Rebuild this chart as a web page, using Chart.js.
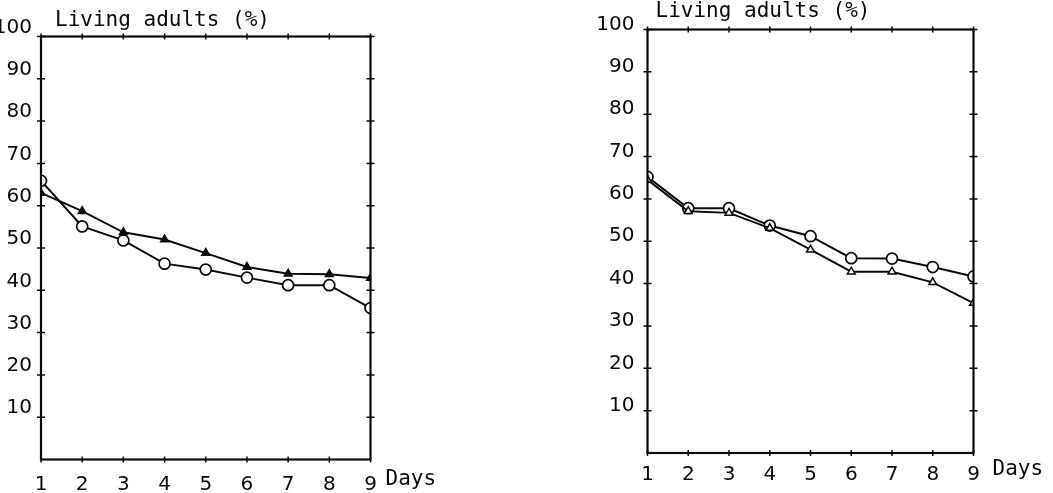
<!DOCTYPE html>
<html>
<head>
<meta charset="utf-8">
<script src="https://cdn.jsdelivr.net/npm/chart.js@4.4.1/dist/chart.umd.min.js"></script>
<style>
  html, body { margin: 0; padding: 0; background: #fff; }
  body { width: 1053px; height: 493px; position: relative; overflow: hidden; }
  canvas { position: absolute; top: 0; }
  #chart_a { left: 0; }
  #chart_b { left: 526px; }
</style>
</head>
<body>
<canvas id="chart_a" width="526" height="493"></canvas>
<canvas id="chart_b" width="527" height="493"></canvas>
<script>
var days = [1, 2, 3, 4, 5, 6, 7, 8, 9];
var yTicks = [10, 20, 30, 40, 50, 60, 70, 80, 90, 100];

// living adults (%) per day, left panel
var leftTriangle = [63, 58.7, 53.7, 52, 48.8, 45.5, 43.9, 43.8, 42.9];
var leftCircle = [65.9, 55.1, 51.8, 46.3, 44.9, 43, 41.2, 41.2, 35.8];

// right panel
var rightTriangle = [64.5, 57.1, 56.7, 53.1, 48, 42.8, 42.8, 40.3, 35.4];
var rightCircle = [65.2, 57.8, 57.8, 53.7, 51.2, 46, 45.9, 43.9, 41.7];

var ink = '#0a0a0a';

function points(vals) {
    return days.map(function (d, i) { return {x: d, y: vals[i]}; });
}

// box round the plot with small crossing ticks, plus the two axis captions
var framePlugin = {
    id: 'frame',
    afterDraw: function (chart, args, opts) {
        var ctx = chart.ctx, a = chart.chartArea;
        var xs = chart.scales.x, ys = chart.scales.y;
        ctx.save();
        ctx.strokeStyle = ink;
        ctx.lineWidth = 2.2;
        ctx.strokeRect(a.left, a.top, a.right - a.left, a.bottom - a.top);
        ctx.lineWidth = 1.5;
        ctx.beginPath();
        yTicks.forEach(function (v) {
            var py = ys.getPixelForValue(v);
            ctx.moveTo(a.left - 4, py); ctx.lineTo(a.left + 4, py);
            ctx.moveTo(a.right - 4, py); ctx.lineTo(a.right + 4, py);
        });
        days.forEach(function (d) {
            var px = xs.getPixelForValue(d);
            ctx.moveTo(px, a.top - 3); ctx.lineTo(px, a.top + 3);
            ctx.moveTo(px, a.bottom - 3); ctx.lineTo(px, a.bottom + 3);
        });
        ctx.stroke();

        ctx.fillStyle = ink;
        ctx.font = '21px "DejaVu Sans Mono"';
        ctx.textBaseline = 'alphabetic';
        ctx.textAlign = 'left';
        ctx.fillText('Living adults (%)', a.left + opts.titleDx, opts.titleY);
        ctx.textBaseline = 'middle';
        ctx.fillText('Days', a.right + opts.daysDx, opts.daysY);
        ctx.restore();
    }
};

function makeChart(id, tri, circ, cfg) {
    return new Chart(document.getElementById(id).getContext('2d'), {
        type: 'line',
        data: {
            datasets: [{
                data: points(tri),
                borderColor: ink,
                borderWidth: 2,
                pointStyle: 'triangle',
                pointRadius: 4.5,
                pointBackgroundColor: cfg.triFill,
                pointBorderColor: ink,
                pointBorderWidth: 1.5
            }, {
                data: points(circ),
                borderColor: ink,
                borderWidth: 2,
                pointStyle: 'circle',
                pointRadius: 5.5,
                pointBackgroundColor: '#fff',
                pointBorderColor: ink,
                pointBorderWidth: 1.7
            }]
        },
        options: {
            responsive: false,
            animation: false,
            layout: {padding: cfg.padding},
            plugins: {
                legend: {display: false},
                tooltip: {enabled: false},
                frame: cfg.frame
            },
            scales: {
                x: {
                    type: 'linear',
                    min: 1,
                    max: 9,
                    grid: {display: false},
                    border: {display: false},
                    ticks: {
                        stepSize: 1,
                        color: ink,
                        padding: cfg.xPad,
                        maxRotation: 0,
                        font: {family: 'DejaVu Sans', size: 20}
                    },
                    afterFit: function (s) { s.height = cfg.xHeight; }
                },
                y: {
                    min: 0,
                    max: 100,
                    grid: {display: false},
                    border: {display: false},
                    ticks: {
                        stepSize: 10,
                        color: ink,
                        padding: cfg.yPad,
                        labelOffset: cfg.yOffset,
                        font: {family: 'DejaVu Sans', size: 20},
                        callback: function (v) { return v === 0 ? '' : v; }
                    },
                    afterFit: function (s) { s.width = cfg.yWidth; }
                }
            }
        },
        plugins: [framePlugin]
    });
}

makeChart('chart_a', leftTriangle, leftCircle, {
    padding: {left: 0, right: 155.5, top: 36.5, bottom: 0},
    yWidth: 41, xHeight: 33.5, xPad: 5, yPad: 1, yOffset: -9,
    triFill: ink,
    frame: {titleDx: 14, titleY: 26, daysDx: 15, daysY: 480}
});

makeChart('chart_b', rightTriangle, rightCircle, {
    padding: {left: 71.5, right: 79.5, top: 29.5, bottom: 0},
    yWidth: 50, xHeight: 40, xPad: 2, yPad: 5, yOffset: -5,
    triFill: '#fff',
    frame: {titleDx: 8, titleY: 17, daysDx: 19, daysY: 470}
});
</script>
</body>
</html>
